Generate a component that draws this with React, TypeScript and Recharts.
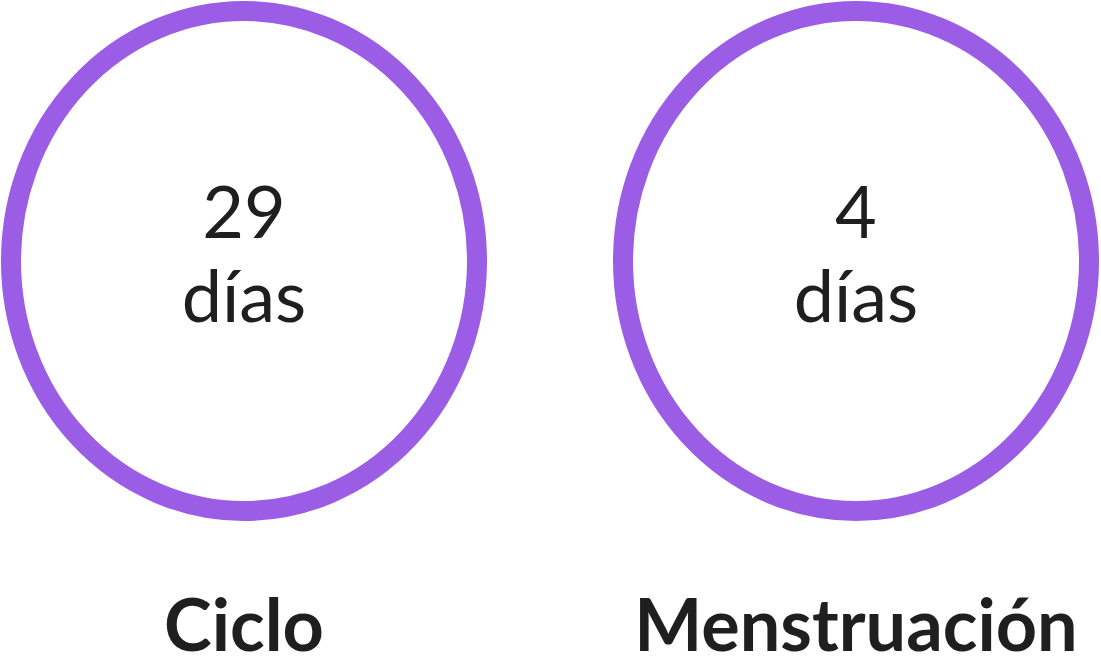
import { ScatterChart, Scatter, XAxis, YAxis } from "recharts"

const categories = ["Ciclo", "Menstruación"]
const days = [29, 4]
const units = ["días", "días"]

const data = categories.map((name, i) => ({ name, days: days[i], unit: units[i] }))

const PURPLE = "#9b5de5"
const INK = "#1f1f1f"
const FONT = "Lato, 'Noto Sans', sans-serif"

const Ring = (props: any) => {
  const { cx, cy, payload } = props
  return (
    <g>
      <ellipse cx={cx} cy={cy} rx={233} ry={250} fill="none" stroke={PURPLE} strokeWidth={20} />
      <text x={cx} y={cy - 23} textAnchor="middle" fontSize={72} fill={INK} fontFamily={FONT}>
        {payload.days}
      </text>
      <text x={cx} y={cy + 61} textAnchor="middle" fontSize={72} fill={INK} fontFamily={FONT}>
        {payload.unit}
      </text>
    </g>
  )
}

const LabelTick = (props: any) => {
  const { x, payload } = props
  return (
    <text x={x} y={651} textAnchor="middle" fontSize={72} fontWeight={700} fill={INK} fontFamily={FONT}>
      {payload.value}
    </text>
  )
}

export default function App() {
  return (
    <div style={{ width: 1101, height: 670, background: "#fff" }}>
      <style>{`body{margin:0}`}</style>
      <ScatterChart width={1101} height={670} margin={{ top: 0, right: 245, bottom: 0, left: 244 }}>
        <XAxis
          dataKey="name"
          type="category"
          scale="point"
          allowDuplicatedCategory={false}
          axisLine={false}
          tickLine={false}
          height={148}
          tick={<LabelTick />}
          interval={0}
        />
        <YAxis dataKey="unit" type="category" hide allowDuplicatedCategory={false} />
        <Scatter data={data} shape={<Ring />} isAnimationActive={false} />
      </ScatterChart>
    </div>
  )
}
